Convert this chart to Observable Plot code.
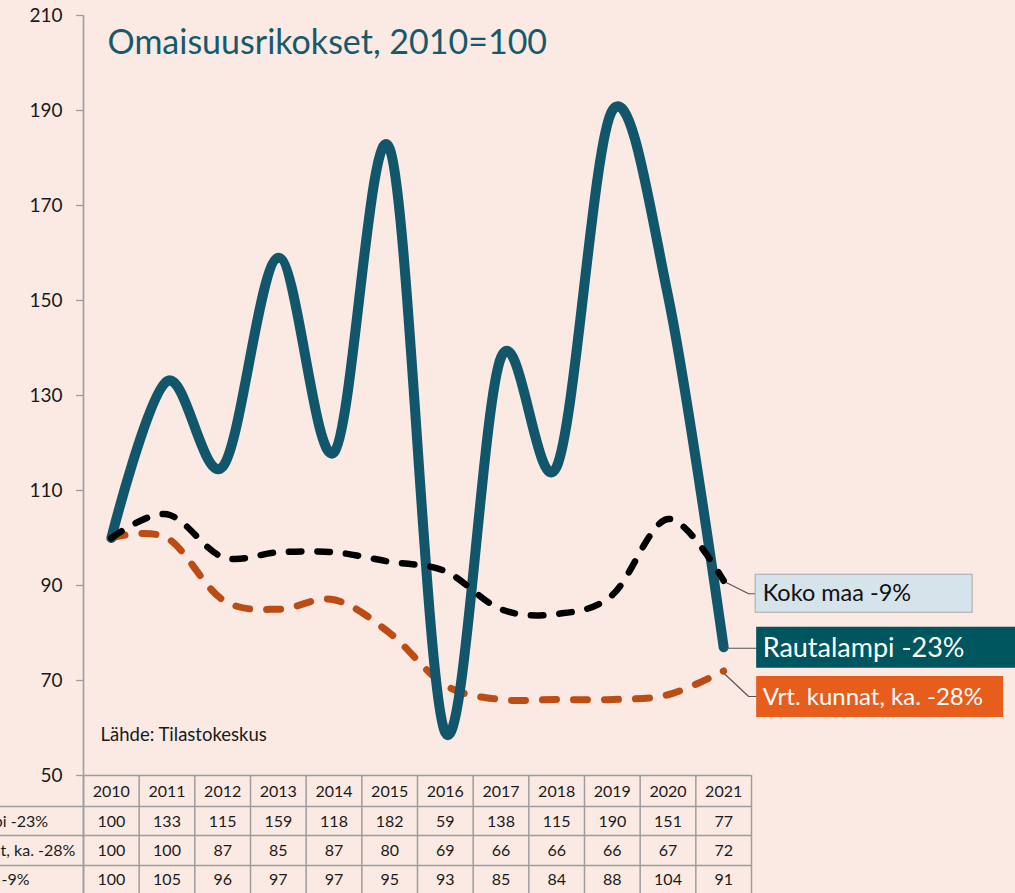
<!DOCTYPE html>
<html>
<head>
<meta charset="utf-8">
<script src="https://cdn.jsdelivr.net/npm/d3@7"></script>
<script src="https://cdn.jsdelivr.net/npm/@observablehq/plot@0.6"></script>
<style>
  html, body { margin: 0; padding: 0; background: #faeae3; }
  #chart { width: 1015px; height: 893px; overflow: hidden; }
</style>
</head>
<body>
<div id="chart"></div>
<script>
// ---- data ----
const years = [2010, 2011, 2012, 2013, 2014, 2015, 2016, 2017, 2018, 2019, 2020, 2021];
const rautalampi = [100, 133, 115, 159, 118, 182, 59, 138, 115, 190, 151, 77];
const vrtKunnat  = [100, 100, 87, 85, 87, 80, 69, 66, 66, 66, 67, 72];
const kokoMaa    = [100, 105, 96, 97, 97, 95, 93, 85, 84, 88, 104, 91];
const seriesNames = ["Rautalampi -23%", "Vrt. kunnat, ka. -28%", "Koko maa -9%"];
const yTicks = [50, 70, 90, 110, 130, 150, 170, 190, 210];
const titleText = "Omaisuusrikokset, 2010=100";
const sourceText = "Lähde: Tilastokeskus";

// ---- layout ----
const W = 1015, H = 893;
const X_DOMAIN = [2009.5, 2021.5], X_RANGE = [83, 751];
const Y_DOMAIN = [50, 210], Y_RANGE = [775, 15];
const xs = d3.scaleLinear(X_DOMAIN, X_RANGE);
const ys = d3.scaleLinear(Y_DOMAIN, Y_RANGE);
// point offset in pixels from a data point, expressed back in data space
const at = (yr, v, dxp, dyp) => ({x: xs.invert(xs(yr) + dxp), y: ys.invert(ys(v) + dyp)});

const toRows = vals => years.map((yr, i) => ({year: yr, value: vals[i]}));
const dR = toRows(rautalampi), dV = toRows(vrtKunnat), dK = toRows(kokoMaa);

const colTeal = "#11566a";
const colOrange = "#bd4b14";
const gridCol = "#9d9d9d";
const lastYear = years[years.length - 1];
const lastR = rautalampi[rautalampi.length - 1];
const lastV = vrtKunnat[vrtKunnat.length - 1];
const lastK = kokoMaa[kokoMaa.length - 1];

// table geometry (pixel offsets below the x baseline)
const rowLines = [31, 60, 90];
const rowCenters = [16, 46, 75, 104];
const tableBottomVal = ys.invert(H);
const leftEdgeVal = xs.invert(0);
const colEdges = years.map(y => y - 0.5).concat([lastYear + 0.5]);
const seriesVals = [rautalampi, vrtKunnat, kokoMaa];

const marks = [];
// axis line + ticks + labels
marks.push(Plot.ruleX([X_DOMAIN[0]], {y1: tableBottomVal, y2: Y_DOMAIN[1], stroke: gridCol, strokeWidth: 1.6}));
marks.push(Plot.ruleY(yTicks, {x1: X_DOMAIN[0], x2: X_DOMAIN[0], insetLeft: -7, stroke: gridCol, strokeWidth: 1.3}));
marks.push(Plot.axisY(yTicks, {tickSize: 0, tickPadding: 21, fontSize: 19, color: "#1a1a1a", label: null}));

// table grid
marks.push(Plot.ruleY([Y_DOMAIN[0]], {x1: X_DOMAIN[0], x2: X_DOMAIN[1], stroke: gridCol, strokeWidth: 1.5}));
rowLines.forEach(dy => marks.push(Plot.ruleY([Y_DOMAIN[0]], {x1: leftEdgeVal, x2: X_DOMAIN[1], dy, stroke: gridCol, strokeWidth: 1.5})));
marks.push(Plot.ruleX(colEdges, {y1: Y_DOMAIN[0], y2: tableBottomVal, stroke: gridCol, strokeWidth: 1.5}));

// table text
marks.push(Plot.text(years, {x: d => d, y: Y_DOMAIN[0], dy: rowCenters[0], text: d => String(d), fontSize: 16, fill: "#1a1a1a"}));
seriesVals.forEach((vals, k) => {
  marks.push(Plot.text(years, {x: d => d, y: Y_DOMAIN[0], dy: rowCenters[k + 1], text: (d, i) => String(vals[i]), fontSize: 16, fill: "#1a1a1a"}));
  marks.push(Plot.text([seriesNames[k]], {x: X_DOMAIN[0], y: Y_DOMAIN[0], dx: -155, dy: rowCenters[k + 1], textAnchor: "start", fontSize: 16, fill: "#1a1a1a"}));
});

// lines
marks.push(Plot.line(dV, {x: "year", y: "value", curve: "cardinal", stroke: colOrange, strokeWidth: 7, strokeDasharray: "14,17", strokeLinecap: "round", strokeLinejoin: "round"}));
marks.push(Plot.line(dR, {x: "year", y: "value", curve: "cardinal", stroke: colTeal, strokeWidth: 10, strokeLinecap: "round", strokeLinejoin: "round"}));
marks.push(Plot.line(dK, {x: "year", y: "value", curve: "cardinal", stroke: "#000", strokeWidth: 6.5, strokeDasharray: "12.5,16", strokeLinecap: "round", strokeLinejoin: "round"}));

// callouts
const leader = pts => Plot.line(pts, {x: "x", y: "y", stroke: "#555", strokeWidth: 1.2});
marks.push(leader([at(lastYear, lastK, 3, 2), at(lastYear, lastK, 25, 13), at(lastYear, lastK, 32, 13)]));
marks.push(leader([at(lastYear, lastR, 2, 1), at(lastYear, lastR, 33, 1)]));
marks.push(leader([at(lastYear, lastV, 1, 3), at(lastYear, lastV, 25, 25.5), at(lastYear, lastV, 33, 25.5)]));

const box = (a, b, fill, stroke) => Plot.rect([{x1: a.x, x2: b.x, y1: a.y, y2: b.y}], {x1: "x1", x2: "x2", y1: "y1", y2: "y2", fill, stroke: stroke || "none", strokeWidth: 1});
marks.push(box(at(lastYear, lastK, 32, -6), at(lastYear, lastK, 249, 32), "#d5e4eb", "#a9a9a9"));
marks.push(box(at(lastYear, lastR, 33, -20), at(lastYear, lastR, 300, 21), "#00565e"));
marks.push(box(at(lastYear, lastV, 33, 5.5), at(lastYear, lastV, 280, 46.5), "#e75d1c"));

marks.push(Plot.text([seriesNames[2]], {x: lastYear, y: lastK, dx: 39, dy: 13, textAnchor: "start", fontSize: 23.5, fill: "#111"}));
marks.push(Plot.text([seriesNames[0]], {x: lastYear, y: lastR, dx: 39, dy: 1, textAnchor: "start", fontSize: 27, fill: "#fff"}));
marks.push(Plot.text([seriesNames[1]], {x: lastYear, y: lastV, dx: 39, dy: 26.5, textAnchor: "start", fontSize: 24, fill: "#fff"}));

// title & source
marks.push(Plot.text([titleText], {x: X_DOMAIN[0], y: Y_DOMAIN[1], dx: 24, dy: 28, textAnchor: "start", fontSize: 34, fill: "#17596c"}));
marks.push(Plot.text([sourceText], {x: X_DOMAIN[0], y: Y_DOMAIN[0], dx: 17, dy: -40, textAnchor: "start", fontSize: 18.5, fill: "#1a1a1a"}));

const chart = Plot.plot({
  width: W,
  height: H,
  marginLeft: X_RANGE[0],
  marginRight: W - X_RANGE[1],
  marginTop: Y_RANGE[1],
  marginBottom: 0,
  x: {domain: X_DOMAIN, range: X_RANGE, axis: null},
  y: {domain: Y_DOMAIN, range: Y_RANGE, axis: null},
  style: {fontFamily: "Lato, sans-serif", background: "#faeae3", overflow: "hidden"},
  marks
});
document.getElementById("chart").appendChild(chart);
</script>
</body>
</html>
